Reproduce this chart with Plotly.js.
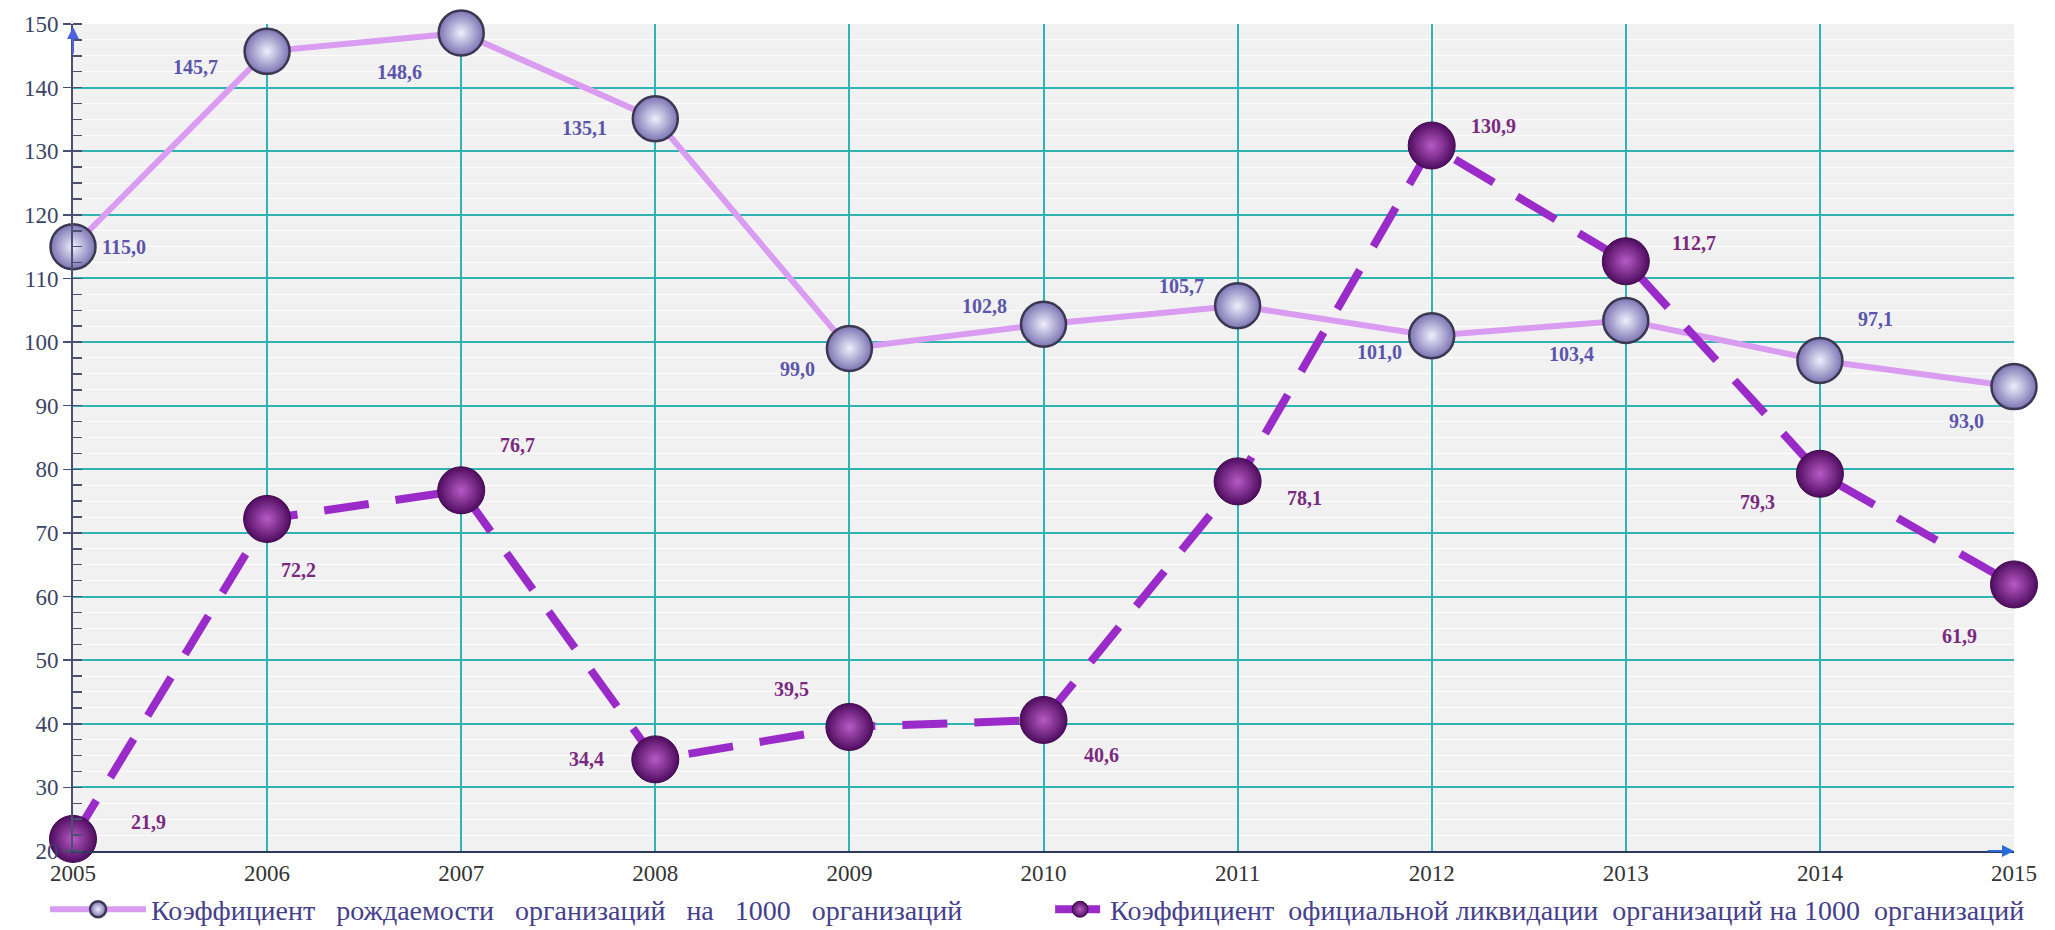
<!DOCTYPE html>
<html>
<head>
<meta charset="utf-8">
<script src="https://cdn.plot.ly/plotly-3.0.1.min.js"></script>
<style>
html,body{margin:0;padding:0;background:#fff;}
#chart{width:2055px;height:930px;}
</style>
</head>
<body>
<div id="chart"></div>
<script>
// ---- data ----
const years = [2005, 2006, 2007, 2008, 2009, 2010, 2011, 2012, 2013, 2014, 2015];
const birthRate = [115.0, 145.7, 148.6, 135.1, 99.0, 102.8, 105.7, 101.0, 103.4, 97.1, 93.0];
const liquidationRate = [21.9, 72.2, 76.7, 34.4, 39.5, 40.6, 78.1, 130.9, 112.7, 79.3, 61.9];
const seriesNames = [
  'Коэффициент\u00a0\u00a0\u00a0рождаемости\u00a0\u00a0\u00a0организаций\u00a0\u00a0\u00a0на\u00a0\u00a0\u00a01000\u00a0\u00a0\u00a0организаций',
  'Коэффициент\u00a0\u00a0официальной ликвидации\u00a0\u00a0организаций на 1000\u00a0\u00a0организаций'
];
const yTicks = [20, 30, 40, 50, 60, 70, 80, 90, 100, 110, 120, 130, 140, 150];

// ---- label offsets (pixels, style only) ----
const birthOff = [[51,0],[-72,-16],[-62,-39],[-71,-9],[-52,-21],[-59,18],[-56,20],[-52,-16],[-54,-34],[56,42],[-48,-34]];
const liqOff = [[75,17],[31,-51],[56,45],[-69,0],[-58,38],[58,-35],[67,-17],[62,20],[68,18],[-62,-28],[-55,-52]];

const fmt = v => v.toFixed(1).replace('.', ',');
const serif = 'Liberation Serif, Times New Roman, serif';

const traces = [
  {
    x: years, y: birthRate, name: seriesNames[0], type: 'scatter', mode: 'lines+markers',
    cliponaxis: false, legend: 'legend',
    line: {color: '#d99cf0', width: 6},
    marker: {size: 45, color: '#7a74b2', gradient: {type: 'radial', color: '#f0eefc'},
             line: {color: '#3c3852', width: 2.5}}
  },
  {
    x: years, y: liquidationRate, name: seriesNames[1], type: 'scatter', mode: 'lines+markers',
    cliponaxis: false, legend: 'legend2',
    line: {color: '#9b2bc9', width: 8, dash: '45px,27px'},
    marker: {size: 47, color: '#4e0c5e', gradient: {type: 'radial', color: '#b85ac6'},
             line: {color: '#3e0a4a', width: 1}}
  }
];

const annotations = [];
years.forEach((yr, i) => {
  annotations.push({x: yr, y: birthRate[i], text: fmt(birthRate[i]), showarrow: false,
    xshift: birthOff[i][0], yshift: birthOff[i][1],
    font: {family: serif, size: 20, color: '#5c55ac', weight: 'bold'}});
  annotations.push({x: yr, y: liquidationRate[i], text: fmt(liquidationRate[i]), showarrow: false,
    xshift: liqOff[i][0], yshift: liqOff[i][1],
    font: {family: serif, size: 20, color: '#7a2a7e', weight: 'bold'}});
});
// axis arrows
annotations.push({x: years[0], y: yTicks[yTicks.length-1], xref: 'x', yref: 'y', text: '', showarrow: true,
  ax: 0, ay: 28, arrowhead: 2, arrowsize: 1.2, arrowwidth: 2, arrowcolor: '#4d63dd', yshift: -3});
annotations.push({x: years[years.length-1], y: yTicks[0], xref: 'x', yref: 'y', text: '', showarrow: true,
  ax: -28, ay: 0, arrowhead: 2, arrowsize: 1.2, arrowwidth: 2, arrowcolor: '#2a6cd4'});

const legendFont = {family: serif, size: 28, color: '#45408a'};

const layout = {
  width: 2055, height: 930,
  margin: {l: 73, r: 41, t: 24, b: 79},
  paper_bgcolor: '#ffffff',
  plot_bgcolor: '#f1f1f1',
  showlegend: true,
  legend: {
    orientation: 'h', x: -0.0144, xref: 'paper', y: 0.022, yref: 'container',
    xanchor: 'left', yanchor: 'middle', font: legendFont,
    itemwidth: 96, bgcolor: 'rgba(0,0,0,0)'
  },
  legend2: {
    orientation: 'h', x: 0.5034, xref: 'paper', y: 0.022, yref: 'container',
    xanchor: 'left', yanchor: 'middle', font: legendFont,
    itemwidth: 50, bgcolor: 'rgba(0,0,0,0)'
  },
  xaxis: {
    range: [years[0], years[years.length-1]],
    tickmode: 'array', tickvals: years, ticktext: years.map(String),
    showgrid: true, gridcolor: '#2fb3b3', gridwidth: 2,
    showline: true, linecolor: '#2c3a5c', linewidth: 2,
    ticks: '', zeroline: false, ticklabelstandoff: 0,
    tickfont: {family: serif, size: 23, color: '#333'}
  },
  yaxis: {
    range: [yTicks[0], yTicks[yTicks.length-1]],
    tickmode: 'array', tickvals: yTicks,
    showgrid: true, gridcolor: '#2fb3b3', gridwidth: 2,
    showline: true, linecolor: '#4a5070', linewidth: 2,
    ticks: 'outside', ticklen: 8, tickcolor: '#4a5070', tickwidth: 1.5,
    minor: {dtick: 2.5, ticks: 'inside', ticklen: 9, tickcolor: '#4a5070', tickwidth: 1.5,
            showgrid: true, gridcolor: 'rgba(255,255,255,0.9)', gridwidth: 1},
    zeroline: false,
    tickfont: {family: serif, size: 23, color: '#3b4466'}
  },
  annotations: annotations
};

Plotly.newPlot('chart', traces, layout, {displayModeBar: false, staticPlot: true});
</script>
</body>
</html>
